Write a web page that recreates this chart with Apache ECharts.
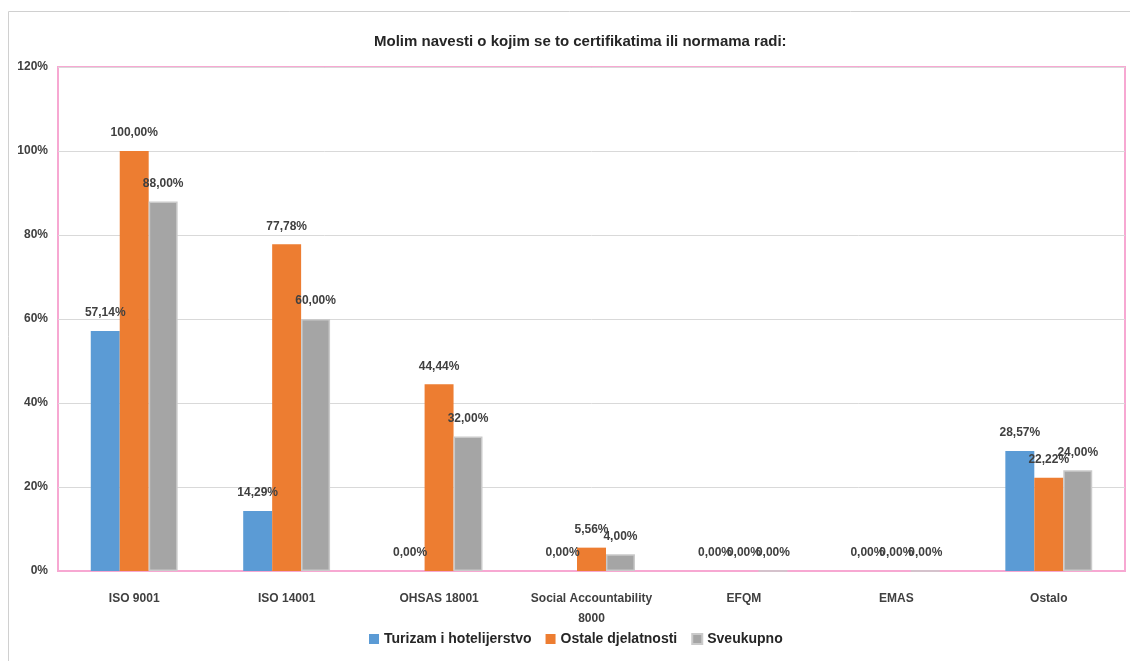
<!DOCTYPE html>
<html>
<head>
<meta charset="utf-8">
<script src="https://cdn.jsdelivr.net/npm/echarts@6/dist/echarts.min.js"></script>
<style>
  html, body { margin: 0; padding: 0; background: #fff; }
  #chart { width: 1130px; height: 661px; }
</style>
</head>
<body>
<div id="chart"></div>
<script>
var categories = ["ISO 9001", "ISO 14001", "OHSAS 18001", "Social Accountability\n8000", "EFQM", "EMAS", "Ostalo"];
var turizam = [57.14, 14.29, 0, 0, 0, 0, 28.57];
var ostale = [100, 77.78, 44.44, 5.56, 0, 0, 22.22];
var sveukupno = [88, 60, 32, 4, 0, 0, 24];
var seriesNames = ["Turizam i hotelijerstvo", "Ostale djelatnosti", "Sveukupno"];

var myChart = echarts.init(document.getElementById("chart"));
var font = "Liberation Sans, Arial, sans-serif";

var labelOption = {
  show: true,
  position: "top",
  distance: 12,
  color: "#404040",
  fontSize: 12,
  fontWeight: "bold",
  fontFamily: font,
  formatter: function (p) {
    return p.value.toFixed(2).replace(".", ",") + "%";
  },
};

var option = {
  animation: false,
  graphic: [
    {
      type: "rect",
      shape: { x: 8.5, y: 11.5, width: 1130, height: 660 },
      style: { fill: "none", stroke: "#d0d0d0", lineWidth: 1 },
      silent: true,
    },
  ],
  title: {
    text: "Molim navesti o kojim se to certifikatima ili normama radi:",
    left: 369,
    top: 29,
    textStyle: {
      color: "#262626",
      fontSize: 15,
      fontWeight: "bold",
      fontFamily: font,
    },
  },
  legend: {
    left: 364,
    top: 627,
    itemWidth: 10,
    itemHeight: 10,
    itemGap: 14,
    icon: "rect",
    textStyle: {
      color: "#262626",
      fontSize: 14,
      fontWeight: "bold",
      fontFamily: font,
    },
    data: seriesNames,
  },
  grid: {
    left: 58,
    right: 5,
    top: 67,
    bottom: 90,
    show: true,
    borderColor: "#f7a8d2",
    borderWidth: 2,
    containLabel: false,
  },
  xAxis: {
    type: "category",
    data: categories,
    axisTick: { show: false },
    axisLine: { show: true, lineStyle: { color: "#f7a8d2", width: 2 } },
    axisLabel: {
      color: "#404040",
      fontSize: 12,
      fontWeight: "bold",
      fontFamily: font,
      margin: 18,
      lineHeight: 20,
      interval: 0,
    },
  },
  yAxis: {
    type: "value",
    min: 0,
    max: 120,
    interval: 20,
    axisLine: { show: false },
    axisTick: { show: false },
    axisLabel: {
      color: "#404040",
      fontSize: 12,
      fontWeight: "bold",
      fontFamily: font,
      margin: 10,
      formatter: function (v) {
        return v + "%";
      },
    },
    splitLine: { show: true, lineStyle: { color: "#d9d9d9", width: 1 } },
  },
  series: [
    {
      name: seriesNames[0],
      type: "bar",
      barGap: 0,
      barCategoryGap: "43%",
      itemStyle: { color: "#5b9bd5" },
      label: labelOption,
      data: turizam,
    },
    {
      name: seriesNames[1],
      type: "bar",
      itemStyle: { color: "#ed7d31" },
      label: labelOption,
      data: ostale,
    },
    {
      name: seriesNames[2],
      type: "bar",
      itemStyle: { color: "#a5a5a5", borderColor: "#cacaca", borderWidth: 1.5 },
      label: labelOption,
      data: sveukupno,
    },
  ],
};
myChart.setOption(option);
</script>
</body>
</html>
